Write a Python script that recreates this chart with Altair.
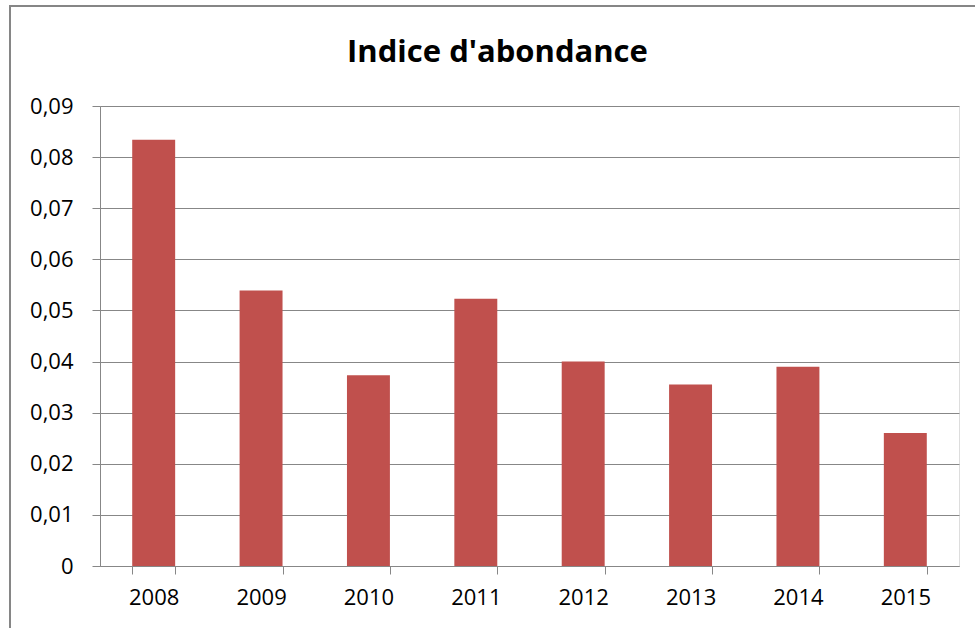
import altair as alt
import pandas as pd

years = ["2008", "2009", "2010", "2011", "2012", "2013", "2014", "2015"]
values = [0.0834, 0.0539, 0.0373, 0.0523, 0.0400, 0.0355, 0.0390, 0.0260]
y_ticks = [0, 0.01, 0.02, 0.03, 0.04, 0.05, 0.06, 0.07, 0.08, 0.09]
title_text = "Indice d'abondance"

df = pd.DataFrame({"year": years, "value": values})

FONT = "Open Sans"
GRAY = "#878787"

bars = alt.Chart(df).mark_bar(color="#C0504D").encode(
    x=alt.X("year:N", sort=years, title=None,
            scale=alt.Scale(paddingInner=0.6, paddingOuter=0.3),
            axis=alt.Axis(labelAngle=0, labelFont=FONT, labelFontSize=22, labelColor="#000000",
                          labelPadding=13, tickBand="extent", tickSize=8, tickColor=GRAY,
                          domainColor=GRAY, grid=False)),
    y=alt.Y("value:Q", title=None,
            scale=alt.Scale(domain=[0, 0.09], nice=False),
            axis=alt.Axis(values=y_ticks, labelFont=FONT, labelFontSize=22, labelColor="#000000",
                          labelExpr="datum.value == 0 ? '0' : replace(format(datum.value, '.2f'), '.', ',')",
                          labelPadding=19, tickSize=8, tickColor=GRAY, domainColor=GRAY,
                          gridColor=GRAY, gridWidth=1)),
)

border = alt.Chart(df).mark_rect(fill=None, stroke=GRAY, strokeWidth=1.5).encode(
    x=alt.value(-90), y=alt.value(-100), x2=alt.value(1000), y2=alt.value(700)
)

title = alt.Chart(pd.DataFrame({"t": [title_text]})).mark_text(
    font=FONT, fontSize=31, fontWeight="bold", color="#000000",
    align="center", baseline="alphabetic"
).encode(text="t:N", x=alt.value(397.5), y=alt.value(-44))

chart = alt.layer(border, bars, title).properties(
    width=859, height=460,
    autosize=alt.AutoSizeParams(type="none"),
    padding={"left": 100, "top": 106, "right": 16, "bottom": 62},
).configure_view(stroke=None).configure(background="white")

chart.save("out.html", embed_options={"renderer": "svg", "actions": False})
